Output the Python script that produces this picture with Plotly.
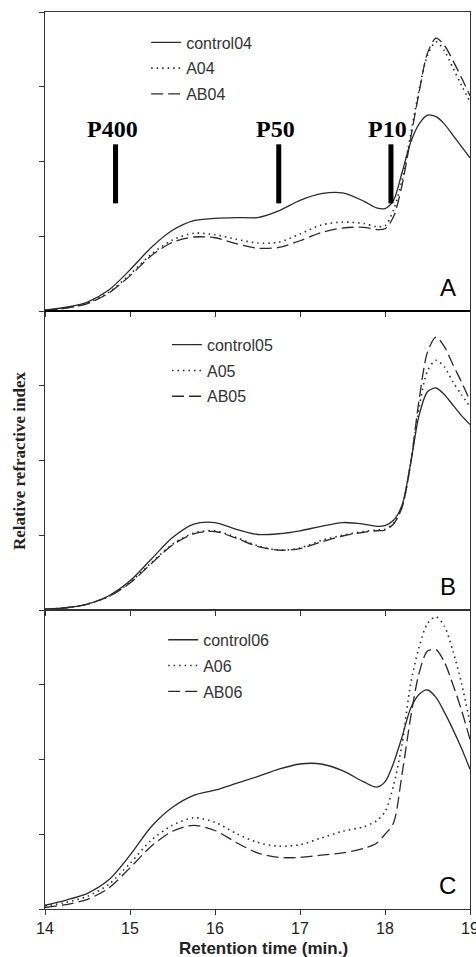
import plotly.graph_objects as go
from plotly.subplots import make_subplots

# ---------------- data ----------------
retention_time = [14.0, 14.25, 14.5, 14.75, 15.0, 15.25, 15.5, 15.75, 16.0, 16.25, 16.5, 16.75,
                  17.0, 17.25, 17.5, 17.75, 17.9, 18.0, 18.1, 18.2, 18.3, 18.4, 18.5, 18.6,
                  18.7, 18.8, 18.9, 19.0]

control04 = [0.01, 0.05, 0.12, 0.28, 0.55, 0.85, 1.08, 1.21, 1.24, 1.25, 1.25, 1.34,
             1.48, 1.57, 1.58, 1.47, 1.38, 1.37, 1.48, 1.85, 2.25, 2.50, 2.62, 2.60,
             2.50, 2.35, 2.20, 2.05]
A04 = [0.01, 0.04, 0.11, 0.25, 0.49, 0.76, 0.95, 1.04, 1.02, 0.96, 0.91, 0.92,
       1.03, 1.15, 1.19, 1.17, 1.13, 1.14, 1.35, 1.75, 2.35, 2.95, 3.42, 3.60,
       3.48, 3.25, 3.02, 2.80]
AB04 = [0.01, 0.04, 0.10, 0.24, 0.47, 0.74, 0.92, 0.99, 0.98, 0.90, 0.84, 0.85,
        0.94, 1.05, 1.11, 1.12, 1.09, 1.10, 1.26, 1.68, 2.30, 2.92, 3.45, 3.65,
        3.55, 3.35, 3.12, 2.88]

control05 = [0.01, 0.03, 0.08, 0.19, 0.39, 0.68, 0.97, 1.15, 1.17, 1.08, 1.01, 1.02,
             1.06, 1.12, 1.17, 1.15, 1.12, 1.13, 1.20, 1.40, 1.95, 2.60, 2.92, 2.97,
             2.88, 2.74, 2.60, 2.48]
A05 = [0.01, 0.03, 0.08, 0.18, 0.37, 0.63, 0.88, 1.03, 1.06, 0.97, 0.86, 0.80,
       0.83, 0.93, 1.00, 1.05, 1.07, 1.08, 1.16, 1.38, 1.95, 2.70, 3.20, 3.34,
       3.25, 3.05, 2.88, 2.72]
AB05 = [0.01, 0.03, 0.08, 0.18, 0.36, 0.62, 0.87, 1.02, 1.05, 0.96, 0.85, 0.80,
        0.82, 0.91, 0.99, 1.04, 1.06, 1.07, 1.15, 1.37, 1.95, 2.80, 3.45, 3.65,
        3.52, 3.28, 3.05, 2.80]

control06 = [0.05, 0.12, 0.21, 0.39, 0.72, 1.10, 1.36, 1.52, 1.59, 1.68, 1.77, 1.87,
             1.94, 1.94, 1.85, 1.70, 1.63, 1.70, 1.95, 2.30, 2.68, 2.87, 2.93, 2.83,
             2.63, 2.40, 2.15, 1.87]
A06 = [0.04, 0.09, 0.17, 0.33, 0.61, 0.92, 1.12, 1.22, 1.16, 1.01, 0.89, 0.84,
       0.86, 0.95, 1.04, 1.10, 1.18, 1.30, 1.65, 2.20, 3.00, 3.50, 3.82, 3.91,
       3.78, 3.45, 3.02, 2.49]
AB06 = [0.02, 0.06, 0.13, 0.28, 0.55, 0.84, 1.04, 1.12, 1.05, 0.89, 0.75, 0.69,
        0.69, 0.72, 0.75, 0.81, 0.88, 1.00, 1.15, 1.80, 2.55, 3.15, 3.45, 3.47,
        3.30, 3.00, 2.66, 2.27]

panel_series = [
    [("control04", control04), ("A04", A04), ("AB04", AB04)],
    [("control05", control05), ("A05", A05), ("AB05", AB05)],
    [("control06", control06), ("A06", A06), ("AB06", AB06)],
]
panel_letters = ["A", "B", "C"]

standard_labels = ["P400", "P50", "P10"]
standard_times = [14.83, 16.75, 18.07]
standard_bar_low = 1.44
standard_bar_high = 2.23
standard_label_y = 2.44

x_ticks = [14, 15, 16, 17, 18, 19]
y_ticks = [0, 1, 2, 3, 4]

# ---------------- figure ----------------
LINE_COLOR = "#2a2a2a"
dashes = ["solid", "1.5px,4px", "12px,5px"]
widths = [1.3, 1.6, 1.3]

fig = make_subplots(rows=3, cols=1, shared_xaxes=True, vertical_spacing=0)

legend_names = ["legend", "legend2", "legend3"]
for r, series in enumerate(panel_series):
    for k, (name, vals) in enumerate(series):
        fig.add_trace(
            go.Scatter(
                x=retention_time, y=vals, name=name, mode="lines",
                line=dict(color=LINE_COLOR, width=widths[k], dash=dashes[k],
                          shape="spline", smoothing=0.8),
                legend=legend_names[r], legendgroup=name,
            ),
            row=r + 1, col=1,
        )

axis_style = dict(showline=True, linecolor="#333", linewidth=1, mirror=True,
                  ticks="outside", ticklen=5, tickcolor="#333", showgrid=False,
                  zeroline=False, automargin=False)

for r in range(1, 4):
    fig.update_xaxes(range=[14, 19], tickvals=x_ticks, row=r, col=1, **axis_style)
    fig.update_yaxes(range=[0, 4], tickvals=y_ticks, showticklabels=False,
                     row=r, col=1, **axis_style)
fig.update_xaxes(showticklabels=True, ticklabeloverflow="allow",
                 tickfont=dict(family="Liberation Sans", size=16, color="#222"),
                 row=3, col=1)

# standards markers in panel A
for lab, t in zip(standard_labels, standard_times):
    fig.add_shape(type="line", xref="x", yref="y", x0=t, x1=t,
                  y0=standard_bar_low, y1=standard_bar_high,
                  line=dict(color="black", width=5))
    fig.add_annotation(x=t, y=standard_label_y, xref="x", yref="y", text=f"<b>{lab}</b>",
                       showarrow=False, xshift=-3, yanchor="middle",
                       font=dict(family="Liberation Serif", size=24, color="black"),
                       )

# panel letters
for r, letter in enumerate(panel_letters):
    suffix = "" if r == 0 else str(r + 1)
    fig.add_annotation(x=0.948, y=0.08, xref=f"x{suffix} domain", yref=f"y{suffix} domain",
                       text=letter, showarrow=False, xanchor="center", yanchor="middle",
                       font=dict(family="Liberation Sans", size=24, color="black"))

# thick separator between A and B
fig.add_shape(type="line", xref="paper", yref="paper", x0=0, x1=1, y0=2/3, y1=2/3,
              line=dict(color="black", width=2))

# axis titles
fig.add_annotation(x=-0.061, y=0.4994, xref="paper", yref="paper",
                   text="<b>Relative refractive index</b>", textangle=-90,
                   showarrow=False, xanchor="center", yanchor="middle",
                   font=dict(family="Liberation Serif", size=17, color="#222"))
fig.add_annotation(x=0.515, y=-0.0435, xref="paper", yref="paper",
                   text="<b>Retention time (min.)</b>", showarrow=False,
                   xanchor="center", yanchor="middle",
                   font=dict(family="Liberation Sans", size=17, color="#222"))

legend_common = dict(bgcolor="rgba(0,0,0,0)", borderwidth=0, tracegroupgap=2,
                     xanchor="left", yanchor="top",
                     font=dict(family="Liberation Sans", size=16, color="#333"))

fig.update_layout(
    width=476, height=957,
    margin=dict(l=45, r=6, t=12, b=48, autoexpand=False),
    paper_bgcolor="white", plot_bgcolor="white",
    showlegend=True,
    legend=dict(x=0.238, y=0.985, **legend_common),
    legend2=dict(x=0.287, y=0.648, **legend_common),
    legend3=dict(x=0.278, y=0.319, **legend_common),
)

fig.write_html("out.html",
               config={"displayModeBar": False},
               post_script="document.body.style.margin='0px';document.body.style.overflow='hidden';")
